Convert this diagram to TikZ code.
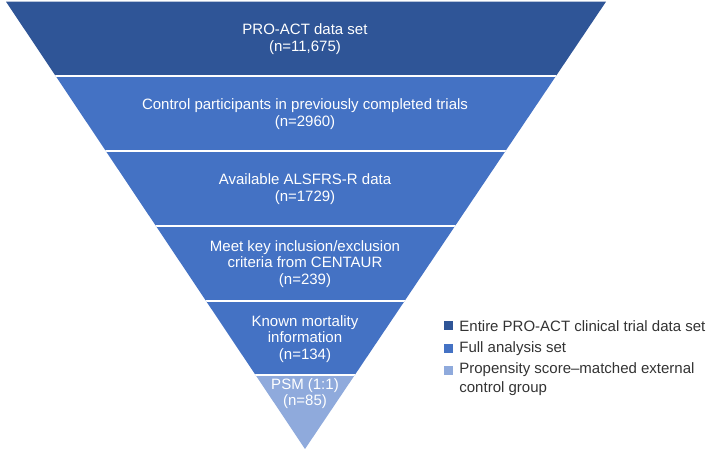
\documentclass[tikz,border=0pt]{standalone}
\usepackage{fontspec}
\setmainfont{Liberation Sans}
\usetikzlibrary{positioning}

\definecolor{setdark}{HTML}{2F5597}
\definecolor{setmid}{HTML}{4472C4}
\definecolor{setlight}{HTML}{8FAADC}
\definecolor{legtext}{HTML}{333333}

\begin{document}
\begin{tikzpicture}[x=1pt, y=-1pt,
    band/.style={align=center, text=white, inner sep=0pt, font=\fontsize{15}{16.5}\selectfont},
    legbox/.style={fill=#1, minimum size=9pt, inner sep=0pt},
    legtxt/.style={align=left, text=legtext, inner sep=0pt, font=\fontsize{15}{18.3}\selectfont}]
    \useasboundingbox (0,0) rectangle (709,452);

    % Funnel: bands clipped to the triangle
    \begin{scope}
        \clip (6,1.7) -- (606,1.7) -- (305,449) -- cycle;
        \fill[setdark] (0,0) rectangle (709,76);
        \fill[setmid] (0,76) rectangle (709,375);
        \fill[setlight] (0,375) rectangle (709,452);
        % white gaps between bands
        \foreach \y in {76, 151, 226, 301, 375} {
            \draw[white, line width=1.5pt] (0,\y) -- (709,\y);
        }
    \end{scope}

    % --- Band labels ---
    \node[band] (all) at (305, 39) {PRO-ACT data set\\(n=11,675)};
    \node[band] (ctrl) at (305, 114) {Control participants in previously completed trials\\(n=2960)};
    \node[band] (alsfrs) at (305, 189) {Available ALSFRS-R data\\(n=1729)};
    \node[band] (crit) at (305, 264) {Meet key inclusion/exclusion\\criteria from CENTAUR\\(n=239)};
    \node[band] (mort) at (305, 339) {Known mortality\\information\\(n=134)};
    \node[band] (psm) at (305, 393.5) {PSM (1:1)\\(n=85)};

    % --- Legend ---
    \node[legbox=setdark] (kdark) at (448.5, 325.7) {};
    \node[legbox=setmid] (kmid) at (448.5, 348.3) {};
    \node[legbox=setlight] (klight) at (448.5, 370) {};

    \node[legtxt, right=6pt of kdark] (tdark) {Entire PRO-ACT clinical trial data set};
    \node[legtxt, right=6pt of kmid] (tmid) {Full analysis set};
    \node[legtxt, right=6pt of klight] (tlight) {Propensity score–matched external};
    \node[legtxt, anchor=base west] (tlight2) at ([yshift=-18.3pt]tlight.base west) {control group};

\end{tikzpicture}
\end{document}
